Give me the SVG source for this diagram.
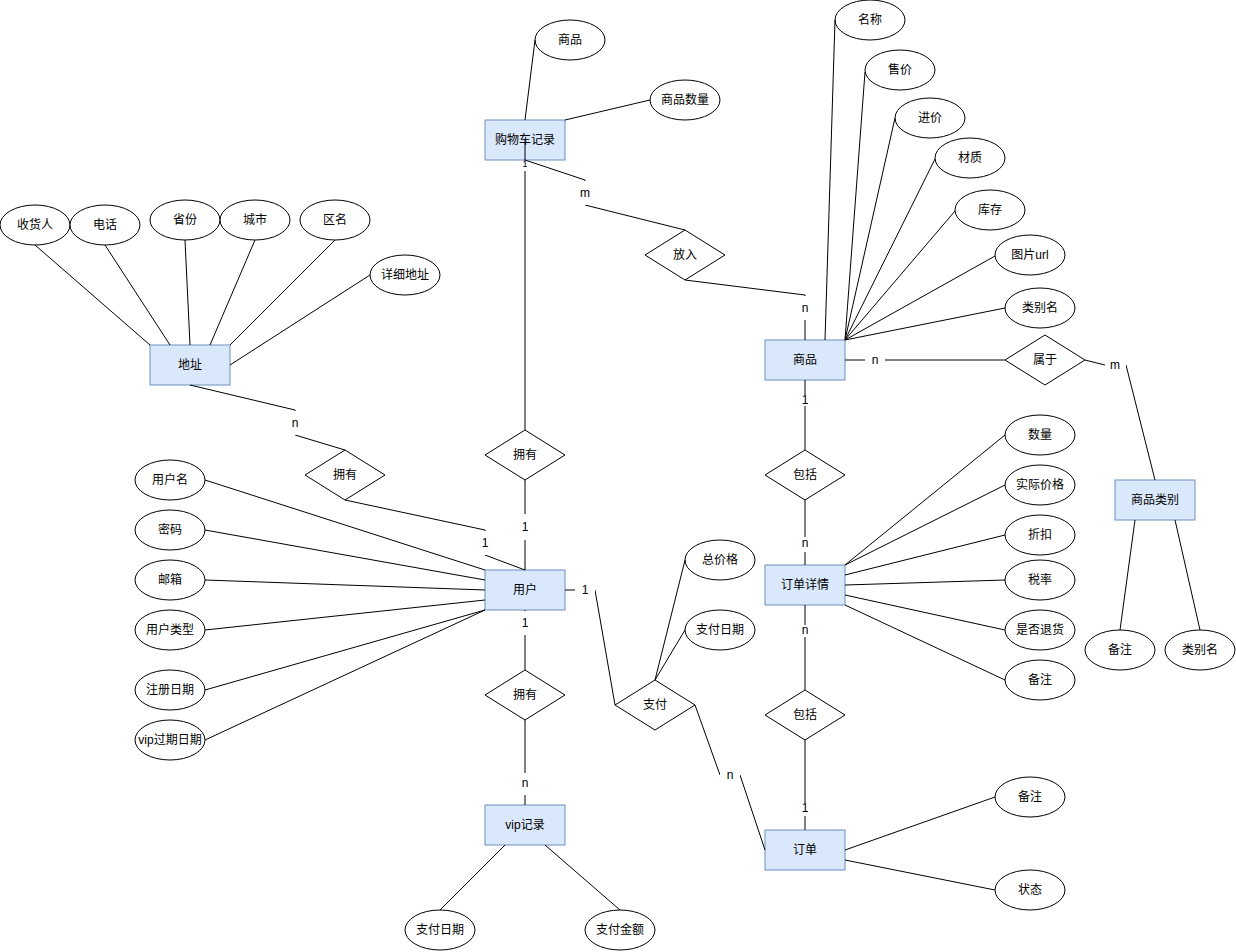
<svg xmlns="http://www.w3.org/2000/svg" width="1236" height="952" viewBox="0 0 1236 952">
<style>
text{font-family:"Liberation Sans","Noto Sans CJK SC",sans-serif;font-size:12px;text-anchor:middle;dominant-baseline:central;fill:#000}
.ent{fill:#dae8fc;stroke:#6c8ebf;stroke-width:1}
.attr{fill:#fff;stroke:#000;stroke-width:1}
.rel{fill:#fff;stroke:#000;stroke-width:1}
.edge{fill:none;stroke:#000;stroke-width:1}
.bg{fill:#fff;stroke:none}
</style>
<rect width="1236" height="952" fill="#fff"/>

<!-- entities -->
<g id="cart"><rect class="ent" x="485" y="120" width="80" height="40"/><text x="525" y="140">购物车记录</text></g>
<g id="address"><rect class="ent" x="150" y="345" width="80" height="40"/><text x="190" y="365">地址</text></g>
<g id="product"><rect class="ent" x="765" y="340" width="80" height="40"/><text x="805" y="360">商品</text></g>
<g id="user"><rect class="ent" x="485" y="570" width="80" height="40"/><text x="525" y="590">用户</text></g>
<g id="orderDetail"><rect class="ent" x="765" y="565" width="80" height="40"/><text x="805" y="585">订单详情</text></g>
<g id="category"><rect class="ent" x="1115" y="480" width="80" height="40"/><text x="1155" y="500">商品类别</text></g>
<g id="vip"><rect class="ent" x="485" y="805" width="80" height="40"/><text x="525" y="825">vip记录</text></g>
<g id="order"><rect class="ent" x="765" y="830" width="80" height="40"/><text x="805" y="850">订单</text></g>

<!-- relationships -->
<g id="rel-put"><polygon class="rel" points="645,255 685,230 725,255 685,280"/><text x="685" y="255">放入</text></g>
<g id="rel-own-addr"><polygon class="rel" points="305,475 345,450 385,475 345,500"/><text x="345" y="475">拥有</text></g>
<g id="rel-own-cart"><polygon class="rel" points="485,455 525,430 565,455 525,480"/><text x="525" y="455">拥有</text></g>
<g id="rel-own-vip"><polygon class="rel" points="485,695 525,670 565,695 525,720"/><text x="525" y="695">拥有</text></g>
<g id="rel-pay"><polygon class="rel" points="615,705 655,680 695,705 655,730"/><text x="655" y="705">支付</text></g>
<g id="rel-include1"><polygon class="rel" points="765,475 805,450 845,475 805,500"/><text x="805" y="475">包括</text></g>
<g id="rel-include2"><polygon class="rel" points="765,715 805,690 845,715 805,740"/><text x="805" y="715">包括</text></g>
<g id="rel-belong"><polygon class="rel" points="1005,360 1045,335 1085,360 1045,385"/><text x="1045" y="360">属于</text></g>

<!-- attributes -->
<g id="a-cart-product"><ellipse class="attr" cx="570" cy="40" rx="35" ry="20"/><text x="570" y="40">商品</text></g>
<g id="a-cart-qty"><ellipse class="attr" cx="685" cy="100" rx="35" ry="20"/><text x="685" y="100">商品数量</text></g>

<g id="a-addr-receiver"><ellipse class="attr" cx="35" cy="225" rx="35" ry="20"/><text x="35" y="225">收货人</text></g>
<g id="a-addr-phone"><ellipse class="attr" cx="105" cy="225" rx="35" ry="20"/><text x="105" y="225">电话</text></g>
<g id="a-addr-province"><ellipse class="attr" cx="185" cy="220" rx="35" ry="20"/><text x="185" y="220">省份</text></g>
<g id="a-addr-city"><ellipse class="attr" cx="255" cy="220" rx="35" ry="20"/><text x="255" y="220">城市</text></g>
<g id="a-addr-district"><ellipse class="attr" cx="335" cy="220" rx="35" ry="20"/><text x="335" y="220">区名</text></g>
<g id="a-addr-detail"><ellipse class="attr" cx="405" cy="275" rx="35" ry="20"/><text x="405" y="275">详细地址</text></g>

<g id="a-prod-name"><ellipse class="attr" cx="870" cy="20" rx="35" ry="20"/><text x="870" y="20">名称</text></g>
<g id="a-prod-price"><ellipse class="attr" cx="900" cy="70" rx="35" ry="20"/><text x="900" y="70">售价</text></g>
<g id="a-prod-cost"><ellipse class="attr" cx="930" cy="118" rx="35" ry="20"/><text x="930" y="118">进价</text></g>
<g id="a-prod-material"><ellipse class="attr" cx="970" cy="158" rx="35" ry="20"/><text x="970" y="158">材质</text></g>
<g id="a-prod-stock"><ellipse class="attr" cx="990" cy="210" rx="35" ry="20"/><text x="990" y="210">库存</text></g>
<g id="a-prod-img"><ellipse class="attr" cx="1030" cy="255" rx="35" ry="20"/><text x="1030" y="255">图片url</text></g>
<g id="a-prod-cat"><ellipse class="attr" cx="1040" cy="308" rx="35" ry="20"/><text x="1040" y="308">类别名</text></g>

<g id="a-user-name"><ellipse class="attr" cx="170" cy="480" rx="35" ry="20"/><text x="170" y="480">用户名</text></g>
<g id="a-user-pwd"><ellipse class="attr" cx="170" cy="530" rx="35" ry="20"/><text x="170" y="530">密码</text></g>
<g id="a-user-mail"><ellipse class="attr" cx="170" cy="580" rx="35" ry="20"/><text x="170" y="580">邮箱</text></g>
<g id="a-user-type"><ellipse class="attr" cx="170" cy="630" rx="35" ry="20"/><text x="170" y="630">用户类型</text></g>
<g id="a-user-reg"><ellipse class="attr" cx="170" cy="690" rx="35" ry="20"/><text x="170" y="690">注册日期</text></g>
<g id="a-user-vipexp"><ellipse class="attr" cx="170" cy="740" rx="35" ry="20"/><text x="170" y="740">vip过期日期</text></g>

<g id="a-pay-total"><ellipse class="attr" cx="720" cy="560" rx="35" ry="20"/><text x="720" y="560">总价格</text></g>
<g id="a-pay-date"><ellipse class="attr" cx="720" cy="630" rx="35" ry="20"/><text x="720" y="630">支付日期</text></g>

<g id="a-od-qty"><ellipse class="attr" cx="1040" cy="435" rx="35" ry="20"/><text x="1040" y="435">数量</text></g>
<g id="a-od-real"><ellipse class="attr" cx="1040" cy="485" rx="35" ry="20"/><text x="1040" y="485">实际价格</text></g>
<g id="a-od-discount"><ellipse class="attr" cx="1040" cy="535" rx="35" ry="20"/><text x="1040" y="535">折扣</text></g>
<g id="a-od-tax"><ellipse class="attr" cx="1040" cy="580" rx="35" ry="20"/><text x="1040" y="580">税率</text></g>
<g id="a-od-return"><ellipse class="attr" cx="1040" cy="630" rx="35" ry="20"/><text x="1040" y="630">是否退货</text></g>
<g id="a-od-note"><ellipse class="attr" cx="1040" cy="680" rx="35" ry="20"/><text x="1040" y="680">备注</text></g>

<g id="a-cat-note"><ellipse class="attr" cx="1120" cy="650" rx="35" ry="20"/><text x="1120" y="650">备注</text></g>
<g id="a-cat-name"><ellipse class="attr" cx="1200" cy="650" rx="35" ry="20"/><text x="1200" y="650">类别名</text></g>

<g id="a-vip-date"><ellipse class="attr" cx="440" cy="930" rx="35" ry="20"/><text x="440" y="930">支付日期</text></g>
<g id="a-vip-amount"><ellipse class="attr" cx="620" cy="930" rx="35" ry="20"/><text x="620" y="930">支付金额</text></g>

<g id="a-order-note"><ellipse class="attr" cx="1030" cy="797" rx="35" ry="20"/><text x="1030" y="797">备注</text></g>
<g id="a-order-status"><ellipse class="attr" cx="1030" cy="890" rx="35" ry="20"/><text x="1030" y="890">状态</text></g>

<!-- connectors -->
<g id="connectors">
  <!-- attribute links -->
  <line class="edge" x1="535" y1="40" x2="525" y2="120"/>
  <line class="edge" x1="650" y1="100" x2="565" y2="120"/>

  <line class="edge" x1="35" y1="245" x2="150" y2="345"/>
  <line class="edge" x1="105" y1="245" x2="170" y2="345"/>
  <line class="edge" x1="185" y1="240" x2="190" y2="345"/>
  <line class="edge" x1="255" y1="240" x2="210" y2="345"/>
  <line class="edge" x1="335" y1="240" x2="230" y2="345"/>
  <line class="edge" x1="370" y1="275" x2="230" y2="365"/>

  <line class="edge" x1="835" y1="20" x2="825" y2="340"/>
  <line class="edge" x1="865" y1="72" x2="845" y2="340"/>
  <line class="edge" x1="895" y1="118" x2="845" y2="340"/>
  <line class="edge" x1="935" y1="159" x2="845" y2="340"/>
  <line class="edge" x1="955" y1="211" x2="845" y2="340"/>
  <line class="edge" x1="995" y1="256" x2="845" y2="340"/>
  <line class="edge" x1="1005" y1="308" x2="845" y2="340"/>

  <line class="edge" x1="205" y1="480" x2="485" y2="570"/>
  <line class="edge" x1="205" y1="530" x2="485" y2="580"/>
  <line class="edge" x1="205" y1="580" x2="485" y2="590"/>
  <line class="edge" x1="205" y1="630" x2="485" y2="600"/>
  <line class="edge" x1="205" y1="690" x2="485" y2="610"/>
  <line class="edge" x1="205" y1="740" x2="485" y2="610"/>

  <line class="edge" x1="655" y1="680" x2="685" y2="560"/>
  <line class="edge" x1="655" y1="680" x2="685" y2="630"/>

  <line class="edge" x1="1005" y1="435" x2="845" y2="565"/>
  <line class="edge" x1="1005" y1="485" x2="845" y2="565"/>
  <line class="edge" x1="1005" y1="535" x2="845" y2="575"/>
  <line class="edge" x1="1005" y1="580" x2="845" y2="585"/>
  <line class="edge" x1="1005" y1="630" x2="845" y2="595"/>
  <line class="edge" x1="1005" y1="680" x2="845" y2="605"/>

  <line class="edge" x1="1120" y1="630" x2="1135" y2="520"/>
  <line class="edge" x1="1200" y1="630" x2="1175" y2="520"/>

  <line class="edge" x1="505" y1="845" x2="440" y2="910"/>
  <line class="edge" x1="545" y1="845" x2="620" y2="910"/>

  <line class="edge" x1="845" y1="850" x2="995" y2="797"/>
  <line class="edge" x1="845" y1="860" x2="995" y2="890"/>

  <!-- relationship links with cardinality labels -->
  <line class="edge" x1="525" y1="140" x2="525" y2="430"/>
  <rect class="bg" x="520" y="161" width="10" height="10"/><text x="525" y="164" style="font-size:9px">1</text>

  <polyline class="edge" points="525,160 585,180 585,205 685,230"/>
  <rect class="bg" x="575" y="181" width="20" height="24"/><text x="585" y="193">m</text>

  <polyline class="edge" points="685,280 805,295 805,340"/>
  <rect class="bg" x="795" y="296" width="20" height="24"/><text x="805" y="308">n</text>

  <polyline class="edge" points="190,385 295,410 295,435 345,450"/>
  <rect class="bg" x="285" y="411" width="20" height="24"/><text x="295" y="423">n</text>

  <polyline class="edge" points="345,500 485,530 485,555 525,570"/>
  <rect class="bg" x="475" y="531" width="20" height="24"/><text x="485" y="543">1</text>

  <line class="edge" x1="525" y1="480" x2="525" y2="570"/>
  <rect class="bg" x="515" y="514" width="20" height="26"/><text x="525" y="527">1</text>

  <line class="edge" x1="525" y1="610" x2="525" y2="670"/>
  <rect class="bg" x="515" y="611" width="20" height="24"/><text x="525" y="623">1</text>

  <line class="edge" x1="525" y1="720" x2="525" y2="805"/>
  <rect class="bg" x="515" y="773" width="20" height="22"/><text x="525" y="783">n</text>

  <polyline class="edge" points="565,590 595,590 615,705"/>
  <rect class="bg" x="575" y="578" width="20" height="24"/><text x="585" y="590">1</text>

  <polyline class="edge" points="695,705 720,775 740,775 765,850"/>
  <rect class="bg" x="720" y="763" width="20" height="24"/><text x="730" y="775">n</text>

  <line class="edge" x1="845" y1="360" x2="1005" y2="360"/>
  <rect class="bg" x="865" y="348" width="20" height="24"/><text x="875" y="360">n</text>

  <polyline class="edge" points="1085,360 1105,365 1126,365 1155,480"/>
  <rect class="bg" x="1105" y="353" width="21" height="24"/><text x="1115" y="365">m</text>

  <line class="edge" x1="805" y1="380" x2="805" y2="450"/>
  <rect class="bg" x="800" y="395" width="10" height="11"/><text x="805" y="400">1</text>

  <line class="edge" x1="805" y1="500" x2="805" y2="565"/>
  <rect class="bg" x="800" y="537" width="10" height="15"/><text x="805" y="543">n</text>

  <line class="edge" x1="805" y1="605" x2="805" y2="690"/>
  <rect class="bg" x="800" y="625" width="10" height="12"/><text x="805" y="630">n</text>

  <line class="edge" x1="805" y1="740" x2="805" y2="830"/>
  <rect class="bg" x="800" y="803" width="10" height="13"/><text x="805" y="808">1</text>
</g>
</svg>
